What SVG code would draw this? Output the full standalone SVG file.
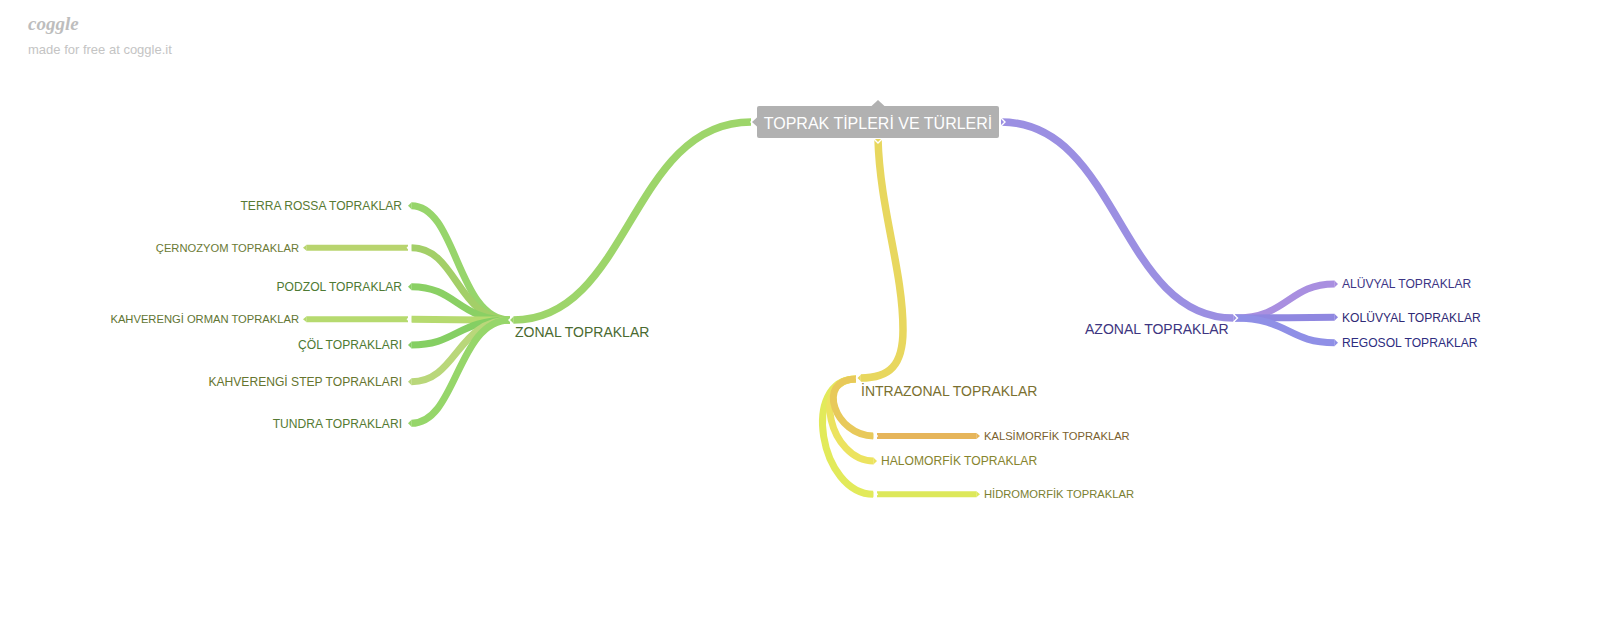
<svg xmlns="http://www.w3.org/2000/svg" width="1600" height="625" viewBox="0 0 1600 625">
<style>
  .br{fill:none;stroke-linecap:butt}
  .t{font-family:"Liberation Sans",Arial,sans-serif}
  .nt{stroke:#fff;stroke-width:1.4;fill:none;stroke-linejoin:miter}
  .c12{font-size:12.1px}
  .c11{font-size:11.2px}
  .c14{font-size:14px}
</style>
<rect width="1600" height="625" fill="#fff"/>
<g id="logo">
  <text x="28" y="30" font-family="'Liberation Serif',serif" font-style="italic" font-weight="bold" font-size="19" fill="#bdbdbd">coggle</text>
  <text x="28" y="54" class="t" font-size="13" fill="#c4c4c4">made for free at coggle.it</text>
</g>
<g id="connectors">
  <!-- zonal children -->
  <path class="br" stroke="#97d56b" stroke-width="7" d="M510,320 C457,320 457,205.7 411.5,205.7"/>
  <polygon fill="#97d56b" points="411.6,202.2 408,205.7 411.6,209.2"/>
  <path class="br" stroke="#a3cf68" stroke-width="7" d="M510,320 C457,320 457,247.7 411.5,247.7"/>
  <path class="br" stroke="#b8d46e" stroke-width="6" d="M408,247.7 L306.5,247.7"/>
  <polygon fill="#b8d46e" points="306.6,244.7 303,247.7 306.6,250.7"/>
  <polyline class="nt" points="411,244 407.5,247.7 411,251.4"/>
  <path class="br" stroke="#8ad064" stroke-width="7" d="M510,320 C457,320 457,286.7 411.5,286.7"/>
  <polygon fill="#8ad064" points="411.6,283.2 408,286.7 411.6,290.2"/>
  <path class="br" stroke="#b6da6f" stroke-width="7" d="M510,320 C457,320 457,319.3 411.5,319.3"/>
  <path class="br" stroke="#b6da6f" stroke-width="6" d="M408,319.3 L306.5,319.3"/>
  <polygon fill="#b6da6f" points="306.6,316.3 303,319.3 306.6,322.3"/>
  <polyline class="nt" points="411,315.6 407.5,319.3 411,323"/>
  <path class="br" stroke="#85cf63" stroke-width="7" d="M510,320 C457,320 457,345 411.5,345"/>
  <polygon fill="#85cf63" points="411.6,341.5 408,345 411.6,348.5"/>
  <path class="br" stroke="#b9d77a" stroke-width="7" d="M510,320 C457,320 457,381.7 411.5,381.7"/>
  <polygon fill="#b9d77a" points="411.6,378.2 408,381.7 411.6,385.2"/>
  <path class="br" stroke="#96d66a" stroke-width="7" d="M510,320 C457,320 457,423.3 411.5,423.3"/>
  <polygon fill="#96d66a" points="411.6,419.8 408,423.3 411.6,426.8"/>
  <!-- main green -->
  <path class="br" stroke="#9dd56a" stroke-width="7.5" d="M751,122 C630,122 630,320 513.5,320"/>
  <polygon fill="#9dd56a" points="513.6,316.2 509.5,320 513.6,323.8"/>
  <polyline class="nt" points="513,316 509,320 513,324"/>
  <polyline class="nt" points="755,118 751,122 755,126"/>

  <!-- intrazonal children -->
  <path class="br" stroke="#e2ea5a" stroke-width="7" d="M856,379 C800,379 820,494.3 873.5,494.3"/>
  <path class="br" stroke="#dde85a" stroke-width="6" d="M877,494.3 L976.5,494.3"/>
  <polygon fill="#dde85a" points="976.4,491.3 980,494.3 976.4,497.3"/>
  <path class="br" stroke="#ece35f" stroke-width="7" d="M856,379 C810,379 830,461 873.5,461"/>
  <polygon fill="#ece35f" points="873.4,457.5 877,461 873.4,464.5"/>
  <path class="br" stroke="#e8c95a" stroke-width="7" d="M856,379 C815,379 835,436 873.5,436"/>
  <path class="br" stroke="#e6b55a" stroke-width="6" d="M877,436 L976.5,436"/>
  <polygon fill="#e6b55a" points="976.4,433 980,436 976.4,439"/>
  <polyline class="nt" points="873.5,432.3 877.2,436 873.5,439.7"/>
  <polyline class="nt" points="873.5,490.6 877.2,494.3 873.5,498"/>
  <!-- main yellow -->
  <path class="br" stroke="#e8d75e" stroke-width="7.5" d="M878,139 C880,210 903,270 903,330 C903,365 890,378 860.5,378"/>
  <polygon fill="#e8d75e" points="860.6,374.2 856.5,378 860.6,381.8"/>
  <polyline class="nt" points="860.5,374 856.5,378 860.5,382"/>
  <polyline class="nt" points="874,139 878,143 882,139"/>

  <!-- azonal children -->
  <path class="br" stroke="#a98fe0" stroke-width="7" d="M1235,318 C1288,318 1288,284 1334.5,284"/>
  <polygon fill="#a98fe0" points="1334.4,280.5 1338,284 1334.4,287.5"/>
  <path class="br" stroke="#8f87e0" stroke-width="7" d="M1235,318 C1288,318 1288,317.3 1334.5,317.3"/>
  <polygon fill="#8f87e0" points="1334.4,313.8 1338,317.3 1334.4,320.8"/>
  <path class="br" stroke="#8f8fe6" stroke-width="7" d="M1235,318 C1288,318 1288,342.7 1334.5,342.7"/>
  <polygon fill="#8f8fe6" points="1334.4,339.2 1338,342.7 1334.4,346.2"/>
  <!-- main purple -->
  <path class="br" stroke="#9b8fe2" stroke-width="7.5" d="M1001,122 C1119,122 1119,318 1233.5,318"/>
  <polygon fill="#9b8fe2" points="1233.4,314.2 1237.5,318 1233.4,321.8"/>
  <polyline class="nt" points="1233.5,314 1237.5,318 1233.5,322"/>
  <polyline class="nt" points="1001,118 1005,122 1001,126"/>
</g>
<g id="n-root">
  <rect x="757" y="106" width="242" height="32" rx="2" fill="#b1b1b1"/>
  <polygon fill="#b1b1b1" points="871,106.5 878,100 885,106.5"/>
  <polygon fill="#b1b1b1" points="757.5,117 752,122 757.5,127"/>
  <text x="878" y="128.5" class="t" font-size="16" fill="#fff" text-anchor="middle">TOPRAK TİPLERİ VE TÜRLERİ</text>
</g>
<g id="n-zonal"><text x="515" y="337" class="t c14" fill="#4a6a30">ZONAL TOPRAKLAR</text></g>
<g id="n-terra"><text x="402" y="210" class="t c12" fill="#577a33" text-anchor="end">TERRA ROSSA TOPRAKLAR</text></g>
<g id="n-cernozyom"><text x="299" y="251.7" class="t c11" fill="#6b7a35" text-anchor="end">ÇERNOZYOM TOPRAKLAR</text></g>
<g id="n-podzol"><text x="402" y="291" class="t c12" fill="#4e7a33" text-anchor="end">PODZOL TOPRAKLAR</text></g>
<g id="n-orman"><text x="299" y="323.3" class="t c11" fill="#617533" text-anchor="end">KAHVERENGİ ORMAN TOPRAKLAR</text></g>
<g id="n-col"><text x="402" y="349.3" class="t c12" fill="#4e7a33" text-anchor="end">ÇÖL TOPRAKLARI</text></g>
<g id="n-step"><text x="402" y="386" class="t c12" fill="#66752f" text-anchor="end">KAHVERENGİ STEP TOPRAKLARI</text></g>
<g id="n-tundra"><text x="402" y="427.7" class="t c12" fill="#557a33" text-anchor="end">TUNDRA TOPRAKLARI</text></g>
<g id="n-intrazonal"><text x="861" y="395.7" class="t c14" fill="#7a7030">İNTRAZONAL TOPRAKLAR</text></g>
<g id="n-kalsimorfik"><text x="984" y="440" class="t c11" fill="#7a5f2e">KALSİMORFİK TOPRAKLAR</text></g>
<g id="n-halomorfik"><text x="881" y="465.3" class="t c12" fill="#86842e">HALOMORFİK TOPRAKLAR</text></g>
<g id="n-hidromorfik"><text x="984" y="498.3" class="t c11" fill="#7a8030">HİDROMORFİK TOPRAKLAR</text></g>
<g id="n-azonal"><text x="1085" y="334" class="t c14" fill="#3d3580">AZONAL TOPRAKLAR</text></g>
<g id="n-aluvyal"><text x="1342" y="288.3" class="t c12" fill="#3d3585">ALÜVYAL TOPRAKLAR</text></g>
<g id="n-koluvyal"><text x="1342" y="321.6" class="t c12" fill="#2f2a75">KOLÜVYAL TOPRAKLAR</text></g>
<g id="n-regosol"><text x="1342" y="347" class="t c12" fill="#2d2d80">REGOSOL TOPRAKLAR</text></g>
</svg>
